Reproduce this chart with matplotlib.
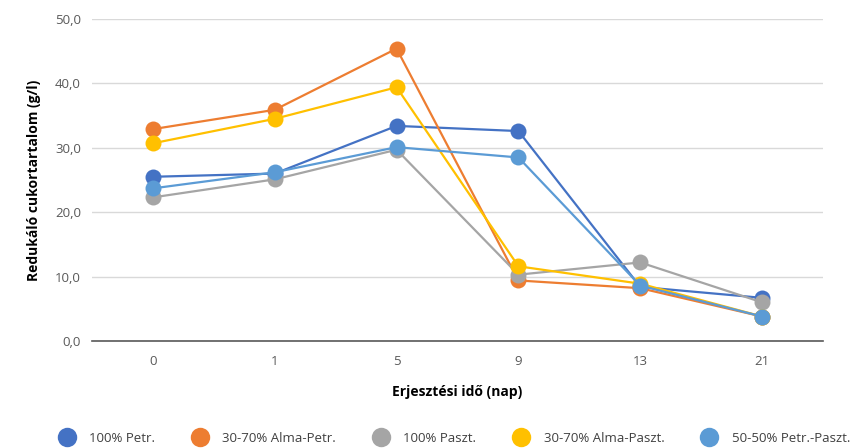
import matplotlib

matplotlib.use("Agg")
import matplotlib.pyplot as plt
from matplotlib.ticker import FuncFormatter

days = ["0", "1", "5", "9", "13", "21"]
petr_100 = [25.5, 26.0, 33.4, 32.6, 8.4, 6.7]
alma_petr = [32.9, 35.9, 45.4, 9.4, 8.2, 3.8]
paszt_100 = [22.3, 25.1, 29.7, 10.3, 12.2, 6.0]
alma_paszt = [30.7, 34.5, 39.4, 11.6, 8.9, 3.8]
petr_paszt = [23.7, 26.2, 30.1, 28.5, 8.6, 3.8]

series = [
    ("100% Petr.", petr_100, "#4472C4"),
    ("30-70% Alma-Petr.", alma_petr, "#ED7D31"),
    ("100% Paszt.", paszt_100, "#A5A5A5"),
    ("30-70% Alma-Paszt.", alma_paszt, "#FFC000"),
    ("50-50% Petr.-Paszt.", petr_paszt, "#5B9BD5"),
]

plt.rcParams["font.family"] = ["Open Sans", "DejaVu Sans"]

fig = plt.figure(figsize=(8.51, 4.48), dpi=100)
ax = fig.add_axes([92 / 851, 1 - 341 / 448, 731 / 851, 322 / 448])

x = list(range(len(days)))
for label, vals, color in series:
    ax.plot(x, vals, color=color, lw=1.6, marker="o", ms=11.5,
            markeredgewidth=0, label=label)

ax.set_xlim(-0.5, len(days) - 0.5)
ax.set_ylim(0, 50)
ax.set_yticks([0, 10, 20, 30, 40, 50])
ax.yaxis.set_major_formatter(FuncFormatter(lambda v, p: f"{v:.1f}".replace(".", ",")))
ax.set_xticks(x)
ax.set_xticklabels(days)
ax.tick_params(length=0, labelsize=9.5, colors="#595959", pad=10)
ax.tick_params(axis="y", pad=8)
ax.grid(axis="y", color="#D9D9D9", lw=1)
ax.set_axisbelow(True)
for s in ["top", "right", "left"]:
    ax.spines[s].set_visible(False)
ax.spines["bottom"].set_color("#595959")
ax.spines["bottom"].set_linewidth(1.2)

ax.set_ylabel("Redukáló cukortartalom (g/l)", fontsize=10, fontweight="bold",
              color="#000000", labelpad=10)
ax.set_xlabel("Erjesztési idő (nap)", fontsize=10, fontweight="bold",
              color="#000000", labelpad=12)

fig.legend(loc="lower center", ncol=5, frameon=False, fontsize=9.5,
           bbox_to_anchor=(0.534, -0.02), handlelength=1.2, columnspacing=2.8,
           handletextpad=1.1, markerscale=1.0)
leg = fig.legends[0]
for h in leg.legend_handles:
    h.set_linestyle("none")
    h.set_markersize(14)
for t in leg.get_texts():
    t.set_color("#404040")

fig.savefig("out.png", dpi=100)
